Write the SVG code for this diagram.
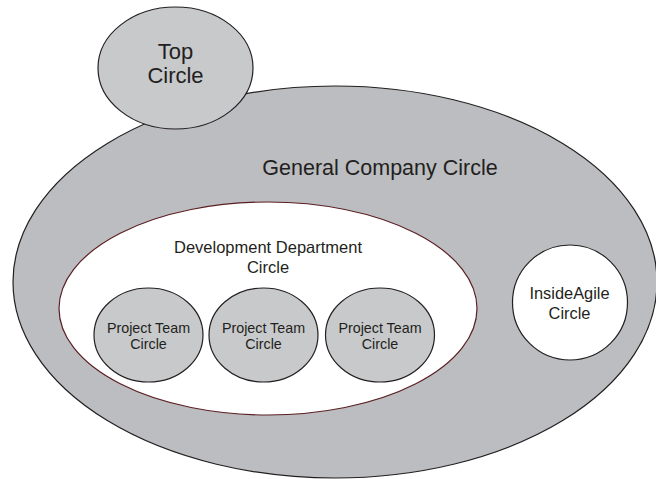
<svg xmlns="http://www.w3.org/2000/svg" width="656" height="479" viewBox="0 0 656 479">
<style>
text{font-family:"Liberation Sans",Arial,sans-serif;fill:#231f20;text-anchor:middle}
.g{fill:#bcbdc0;stroke:#231f20;stroke-width:1.2}
.l{fill:#c8c9cb;stroke:#231f20;stroke-width:1.2}
.w{fill:#ffffff;stroke:#231f20;stroke-width:1.2}
.d{fill:#ffffff;stroke:#5a1e22;stroke-width:1.2}
</style>
<rect width="656" height="479" fill="#ffffff"/>
<g id="general">
<ellipse class="g" cx="335" cy="282" rx="322" ry="196"/>
<text x="380" y="175" font-size="21.5">General Company Circle</text>
</g>
<g id="top">
<ellipse class="l" cx="175.5" cy="68" rx="77.5" ry="61"/>
<text x="175.5" y="59" font-size="22">Top</text>
<text x="175.5" y="83" font-size="22">Circle</text>
</g>
<g id="development">
<ellipse class="d" cx="268" cy="308.5" rx="209" ry="106.5"/>
<text x="268" y="252.5" font-size="16.5">Development Department</text>
<text x="268" y="272.5" font-size="16.5">Circle</text>
</g>
<g id="team1">
<ellipse class="l" cx="148.5" cy="335" rx="54.5" ry="47"/>
<text x="148.5" y="332.5" font-size="14.3">Project Team</text>
<text x="148.5" y="349" font-size="14.3">Circle</text>
</g>
<g id="team2">
<ellipse class="l" cx="263.5" cy="335" rx="54.5" ry="47"/>
<text x="263.5" y="332.5" font-size="14.3">Project Team</text>
<text x="263.5" y="349" font-size="14.3">Circle</text>
</g>
<g id="team3">
<ellipse class="l" cx="380" cy="335" rx="54.5" ry="47"/>
<text x="380" y="332.5" font-size="14.3">Project Team</text>
<text x="380" y="349" font-size="14.3">Circle</text>
</g>
<g id="insideagile">
<ellipse class="w" cx="570" cy="302.5" rx="57.5" ry="57.5"/>
<text x="569.5" y="298.5" font-size="16.4">InsideAgile</text>
<text x="569.5" y="318.5" font-size="16.4">Circle</text>
</g>
<g id="connectors"/>
</svg>
